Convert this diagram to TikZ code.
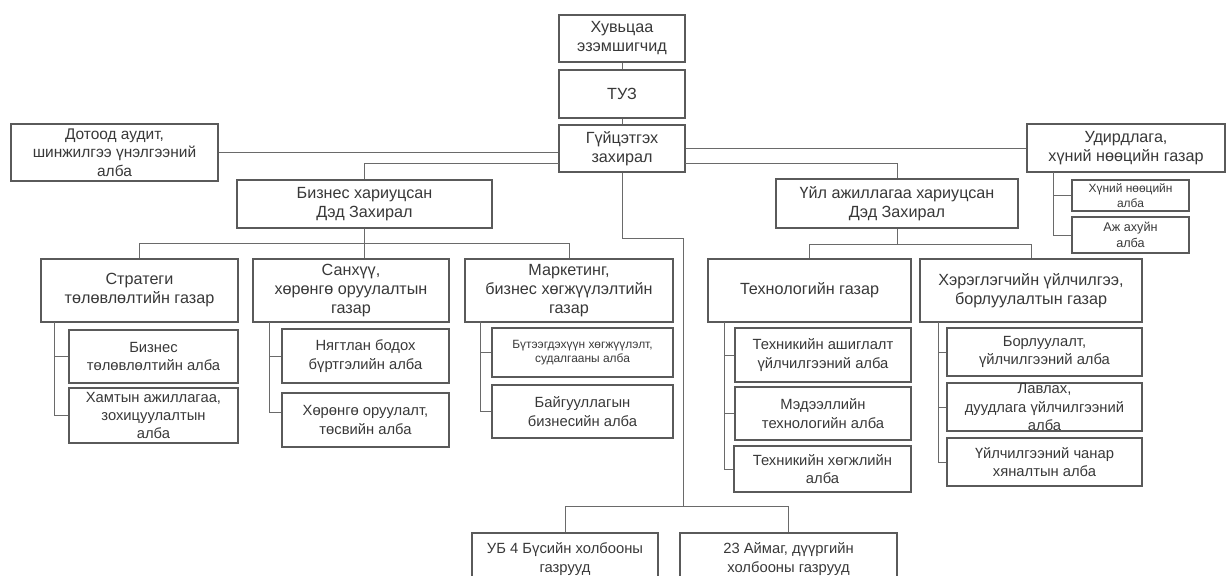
\documentclass[tikz,border=0pt]{standalone}
\usepackage{fontspec}
\setmainfont{Liberation Sans}
\definecolor{boxgray}{HTML}{5A5A5A}
\definecolor{linegray}{HTML}{6A6A6A}
\definecolor{textgray}{HTML}{383838}
\begin{document}
\begin{tikzpicture}[
    x=0.025cm, y=-0.025cm,
    box/.style={draw=boxgray, line width=0.75pt, inner sep=0pt, align=center, text=textgray},
    sz/.style 2 args={minimum width=#1*0.025cm, minimum height=#2*0.025cm},
    head/.style={box, font=\fontsize{11.5}{13.5}\selectfont},
    unit/.style={box, font=\fontsize{10.5}{13}\selectfont},
    small/.style={box, font=\fontsize{8.5}{10}\selectfont},
    link/.style={draw=linegray, line width=0.6pt}
]
\clip (0,0) rectangle (1228,575);

% top of the chart
\node[head, sz={126}{47}] (owners) at (622,38.5) {Хувьцаа\\эзэмшигчид};
\node[head, sz={126}{48}] (board) at (622,94) {ТУЗ};
\node[head, sz={126}{47}] (ceo) at (622,148.5) {Гүйцэтгэх\\захирал};
\node[head, sz={207}{57}, font=\fontsize{11}{13}\selectfont] (audit) at (114.5,152.5) {Дотоод аудит,\\шинжилгээ үнэлгээний\\алба};
\node[head, sz={198}{48}] (admin) at (1126,148) {Удирдлага,\\хүний нөөцийн газар};
\node[small, sz={117}{31}, font=\fontsize{8.5}{11}\selectfont] (hr) at (1130.5,195.5) {Хүний нөөцийн\\алба};
\node[small, sz={117}{36}, font=\fontsize{9}{11}\selectfont] (supply) at (1130.5,235) {Аж ахуйн\\алба};

% deputy directors
\node[head, sz={255}{48}] (vpbiz) at (364.5,204) {Бизнес хариуцсан\\Дэд Захирал};
\node[head, sz={242}{49}] (vpops) at (897,203.5) {Үйл ажиллагаа хариуцсан\\Дэд Захирал};

% departments
\node[head, sz={197}{63}] (strat) at (139.5,290.5) {Стратеги\\төлөвлөлтийн газар};
\node[head, sz={196}{63}] (fin) at (351,290.5) {Санхүү,\\хөрөнгө оруулалтын\\газар};
\node[head, sz={208}{63}] (mkt) at (569,290.5) {Маркетинг,\\бизнес хөгжүүлэлтийн\\газар};
\node[head, sz={203}{63}] (tech) at (809.5,290.5) {Технологийн газар};
\node[head, sz={222}{63}] (cust) at (1031,290.5) {Хэрэглэгчийн үйлчилгээ,\\борлуулалтын газар};

% units
\node[unit, sz={169}{53}] (strat1) at (153.5,356.5) {Бизнес\\төлөвлөлтийн алба};
\node[unit, sz={169}{55}] (strat2) at (153.5,415.5) {Хамтын ажиллагаа,\\зохицуулалтын\\алба};
\node[unit, sz={167}{54}] (fin1) at (365.5,356) {Нягтлан бодох\\бүртгэлийн алба};
\node[unit, sz={167}{54}] (fin2) at (365.5,420) {Хөрөнгө оруулалт,\\төсвийн алба};
\node[small, sz={181}{49}] (mkt1) at (582.5,352.5) {Бүтээгдэхүүн хөгжүүлэлт,\\судалгааны алба};
\node[unit, sz={181}{53}] (mkt2) at (582.5,411.5) {Байгууллагын\\бизнесийн алба};
\node[unit, sz={176}{54}] (tech1) at (823,355) {Техникийн ашиглалт\\үйлчилгээний алба};
\node[unit, sz={176}{53}] (tech2) at (823,413.5) {Мэдээллийн\\технологийн алба};
\node[unit, sz={177}{46}] (tech3) at (822.5,469) {Техникийн хөгжлийн\\алба};
\node[unit, sz={195}{48}] (cust1) at (1044.5,352) {Борлуулалт,\\үйлчилгээний алба};
\node[unit, sz={195}{48}] (cust2) at (1044.5,407) {Лавлах,\\дуудлага үйлчилгээний\\алба};
\node[unit, sz={195}{48}] (cust3) at (1044.5,462) {Үйлчилгээний чанар\\хяналтын алба};

% branches
\node[unit, sz={186}{52}] (ubbr) at (565,559) {УБ 4 Бүсийн холбооны\\газрууд};
\node[unit, sz={217}{52}] (aimbr) at (788.5,559) {23 Аймаг, дүүргийн\\холбооны газрууд};

% junctions
\coordinate (ceoL) at (559,163);
\coordinate (ceoR) at (685,163);
\coordinate (busbiz) at (364,243);
\coordinate (busops) at (897,244);
\coordinate (kink) at (683,238);
\coordinate (busbr) at (683,506);
\coordinate (adminL) at (1053,172);
\coordinate (stratL) at (54,322);
\coordinate (finL) at (269,322);
\coordinate (mktL) at (480,321);
\coordinate (techL) at (724,322);
\coordinate (custL) at (938,322);

\draw[link] (owners) -- (board);
\draw[link] (board) -- (ceo);
\draw[link] (audit.east) -- (audit.east -| ceo.west);
\draw[link] (ceo.east |- admin.west) -- (admin.west);
\draw[link] (ceoL) -| (vpbiz.north);
\draw[link] (ceoR) -| (vpops.north);
\draw[link] (strat.north) |- (busbiz) -| (mkt.north);
\draw[link] (vpbiz.south -| busbiz) -- (fin.north -| busbiz);
\draw[link] (tech.north) |- (busops) -| (cust.north);
\draw[link] (vpops.south) -- (busops);
\draw[link] (ceo.south) |- (kink) -- (busbr);
\draw[link] (ubbr.north) |- (busbr) -| (aimbr.north);

\foreach \a/\b in {adminL/hr, adminL/supply, stratL/strat1, stratL/strat2, finL/fin1,
    mktL/mkt1, mktL/mkt2, techL/tech1, techL/tech2, techL/tech3,
    custL/cust1, custL/cust2, custL/cust3}
  \draw[link] (\a) |- (\b.west);
\draw[link] (finL) |- ([yshift=0.2cm]fin2.west);
\end{tikzpicture}
\end{document}
